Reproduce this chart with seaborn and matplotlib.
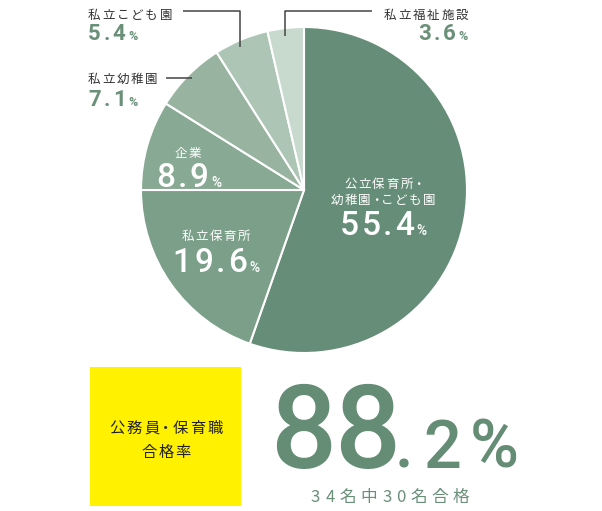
import matplotlib
matplotlib.use('Agg')
import matplotlib.pyplot as plt
from matplotlib.patches import Rectangle
import seaborn as sns

# ---- data ----
categories = ['公立保育所・幼稚園・こども園', '私立保育所', '企業', '私立幼稚園', '私立こども園', '私立福祉施設']
shares = [55.4, 19.6, 8.9, 7.1, 5.4, 3.6]
slice_colors = ['#668d77', '#7b9f89', '#88a993', '#98b4a1', '#adc5b5', '#c8d9ce']
box_title = ['公務員・保育職', '合格率']
pass_total = 34
pass_count = 30
pass_rate = 88.2

sns.set_theme(style='white')
plt.rcParams['font.family'] = ['Noto Sans CJK JP', 'DejaVu Sans']

JP = ['Noto Sans CJK JP', 'DejaVu Sans']
NUM = ['Roboto', 'DejaVu Sans']
GREEN = '#6a9079'
BIG_GREEN = '#658c75'
DARK = '#333333'
WHITE = '#ffffff'

W, H = 602, 511
fig = plt.figure(figsize=(W / 100, H / 100), dpi=100)
ax = fig.add_axes([0, 0, 1, 1])
ax.pie(shares, colors=slice_colors, startangle=-90, counterclock=True,
       center=(304, 190), radius=163,
       wedgeprops=dict(edgecolor='white', linewidth=1.5))
ax.set_xlim(0, W)
ax.set_ylim(H, 0)
ax.set_aspect('equal')
ax.axis('off')

PX = 100 / 72


def adv(ch, px):
    if ch.isdigit():
        return 0.6 * px
    if ch == '.':
        return 0.28 * px
    if ch == '%':
        return 0.75 * px
    if ch == '・':
        return 0.6 * px
    if ch == ' ':
        return 0.3 * px
    return 1.0 * px


def spaced(x, y, parts, ha='left', color=DARK):
    cells = []
    for text, size, fam, trk, wt in parts:
        px = size * PX
        for ch in text:
            cells.append((ch, size, fam, wt, adv(ch, px), trk))
    total = sum(c[4] for c in cells) + sum(c[5] for c in cells[:-1])
    start = {'left': x, 'center': x - total / 2, 'right': x - total}[ha]
    cx = start
    for ch, size, fam, wt, a, trk in cells:
        ax.text(cx + a / 2, y, ch, fontsize=size, family=fam, fontweight=wt,
                color=color, ha='center', va='baseline')
        cx += a + trk


def pct(v):
    return f'{v:.1f}'


# ---- outside labels ----
spaced(88, 19, [(categories[4], 9, JP, 1.8, 'normal')])
spaced(88, 40, [(pct(shares[4]), 16, NUM, 2.5, 600), ('%', 9, NUM, 0, 600)], color=GREEN)
spaced(88, 83, [(categories[3], 9, JP, 1.8, 'normal')])
spaced(88, 106, [(pct(shares[3]), 16, NUM, 2.5, 600), ('%', 9, NUM, 0, 600)], color=GREEN)
spaced(468, 19, [(categories[5], 9, JP, 1.8, 'normal')], ha='right')
spaced(468, 40, [(pct(shares[5]), 16, NUM, 2.5, 600), ('%', 9, NUM, 0, 600)], ha='right', color=GREEN)

LC = '#444444'
ax.plot([166, 192], [78, 78], color=LC, lw=1.1, solid_capstyle='butt')
ax.plot([183, 240, 240], [11, 11, 47], color=LC, lw=1.1, solid_capstyle='butt')
ax.plot([372, 285, 285], [11, 11, 36], color=LC, lw=1.1, solid_capstyle='butt')

# ---- inside labels ----
spaced(188, 157, [(categories[2], 9, JP, 1.5, 'normal')], ha='center', color=WHITE)
spaced(156, 187, [(pct(shares[2]), 24, NUM, 2, 500), ('%', 10, NUM, 0, 500)], color=WHITE)
spaced(216, 240, [(categories[1], 9, JP, 1.5, 'normal')], ha='center', color=WHITE)
spaced(216, 272, [(pct(shares[1]), 24, NUM, 2, 500), ('%', 10, NUM, 0, 500)], ha='center', color=WHITE)
spaced(383, 188, [('公立保育所・', 9, JP, 1.5, 'normal')], ha='center', color=WHITE)
spaced(383, 204, [('幼稚園・こども園', 9, JP, 1.5, 'normal')], ha='center', color=WHITE)
spaced(383, 235, [(pct(shares[0]), 24, NUM, 2, 500), ('%', 10, NUM, 0, 500)], ha='center', color=WHITE)

# ---- yellow box ----
ax.add_patch(Rectangle((90, 367), 151, 139, facecolor='#fff100', edgecolor='none'))
spaced(166, 433, [(box_title[0], 11, JP, 2, 'normal')], ha='center', color='#222222')
spaced(166, 457, [(box_title[1], 11, JP, 2, 'normal')], ha='center', color='#222222')

# ---- big rate ----
rate_int, rate_dec = f'{pass_rate:.1f}'.split('.')
spaced(268, 468, [(rate_int, 84, NUM, -6, 500)], color=BIG_GREEN)
spaced(395, 468, [('.', 48, NUM, 9, 500), (rate_dec, 48, NUM, 7, 500), ('%', 48, NUM, 0, 500)], color=BIG_GREEN)
spaced(390, 502, [(f'{pass_total}名中{pass_count}名合格', 12, JP, 4.5, 'normal')], ha='center', color=GREEN)

fig.savefig('out.png', dpi=100, facecolor='white')
